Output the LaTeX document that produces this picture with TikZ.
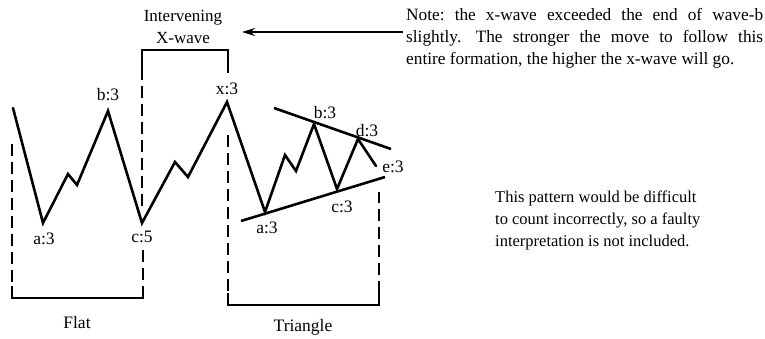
\documentclass[tikz,border=0pt]{standalone}
\usepackage{fontspec}
\setmainfont{Liberation Serif}
\usetikzlibrary{arrows.meta}
\begin{document}
\begin{tikzpicture}[x=1pt,y=-1pt,
  wave/.style={line width=2.6pt,line join=miter,line cap=round},
  trend/.style={line width=2.6pt},
  dashv/.style={line width=1.6pt,dash pattern=on 12pt off 6pt},
  brack/.style={line width=1.6pt},
  lbl/.style={inner sep=0pt,font=\fontsize{17.5}{20}\selectfont},
  txt/.style={inner sep=0pt,font=\fontsize{16.5}{22}\selectfont,align=left}]
\useasboundingbox (0,0) rectangle (765,339);
% wave points
\coordinate (w0) at (13,108);
\coordinate (fa) at (43,223);
\coordinate (w1) at (68,174);
\coordinate (w2) at (77,185);
\coordinate (fb) at (108,111);
\coordinate (fc) at (142,223);
\coordinate (w3) at (175,162);
\coordinate (w4) at (188,177);
\coordinate (xx) at (227,102);
\coordinate (ta) at (265,212);
\coordinate (w5) at (285,155);
\coordinate (w6) at (296,171);
\coordinate (tb) at (314,124);
\coordinate (tc) at (337,189);
\coordinate (td) at (358,139);
\coordinate (te) at (376,166);
\draw[wave] (w0) -- (fa) -- (w1) -- (w2) -- (fb) -- (fc) -- (w3) -- (w4) -- (xx)
  -- (ta) -- (w5) -- (w6) -- (tb) -- (tc) -- (td) -- (te);
% trendlines
\coordinate (u1) at (274,108);
\coordinate (u2) at (391,149);
\coordinate (l1) at (241,221);
\coordinate (l2) at (385,177);
\draw[trend] (u1) -- (u2);
\draw[trend] (l1) -- (l2);
% labels
\node[lbl] (lfb) at (108,95) {b:3};
\node[lbl] (lfa) at (44,239) {a:3};
\node[lbl] (lfc) at (142,237) {c:5};
\node[lbl] (lx) at (227,89) {x:3};
\node[lbl] (lta) at (267,228) {a:3};
\node[lbl] (ltb) at (325,113) {b:3};
\node[lbl] (ltc) at (342,207) {c:3};
\node[lbl] (ltd) at (367,131) {d:3};
\node[lbl] (lte) at (393,167) {e:3};
\node[lbl] (flat) at (77,323) {Flat};
\node[lbl] (tri) at (303,327) {Triangle};
\node[lbl,align=center,font=\fontsize{17}{22}\selectfont] (xw) at (183,27) {Intervening\\X-wave};
% brackets: flat
\coordinate (f1) at (12,144);
\coordinate (f2) at (12,298);
\coordinate (f3) at (143,298);
\coordinate (f4) at (143,250);
\draw[dashv] (f1) -- (12,286);
\draw[brack] (12,286) -- (f2) -- (f3) -- (143,286);
\draw[dashv] (f4) -- (143,286);
% x-wave bracket
\coordinate (x1) at (142,68);
\coordinate (x2) at (142,50);
\coordinate (x3) at (228,50);
\coordinate (x4) at (228,73);
\draw[brack] (x1) -- (x2) -- (x3) -- (x4);
\draw[dashv] (x1) -- (142,212);
% triangle bracket
\coordinate (t1) at (228,135);
\coordinate (t2) at (228,305);
\coordinate (t3) at (379,305);
\coordinate (t4) at (379,192);
\draw[dashv] (t1) -- (228,293);
\draw[brack] (228,293) -- (t2) -- (t3) -- (379,293);
\draw[dashv] (379,293) -- (t4);
% note
\node[txt,anchor=north west,font=\fontsize{17.3}{22}\selectfont\frenchspacing] (note) at (406,8) {\makebox[357pt][s]{Note: the x-wave exceeded the end of wave-b}\\
\makebox[357pt][s]{slightly.\hspace{0.25em} The stronger the move to follow this}\\
entire formation, the higher the x-wave will go.};
\coordinate (arrs) at (403,32);
\coordinate (arre) at (242,32);
\draw[line width=1.8pt,-{Stealth[length=13pt,width=8pt]}] (arrs) -- (arre);
% second note
\node[txt,anchor=north west] (note2) at (495,191) {This pattern would be difficult\\to count incorrectly, so a faulty\\interpretation is not included.};
\end{tikzpicture}
\end{document}
